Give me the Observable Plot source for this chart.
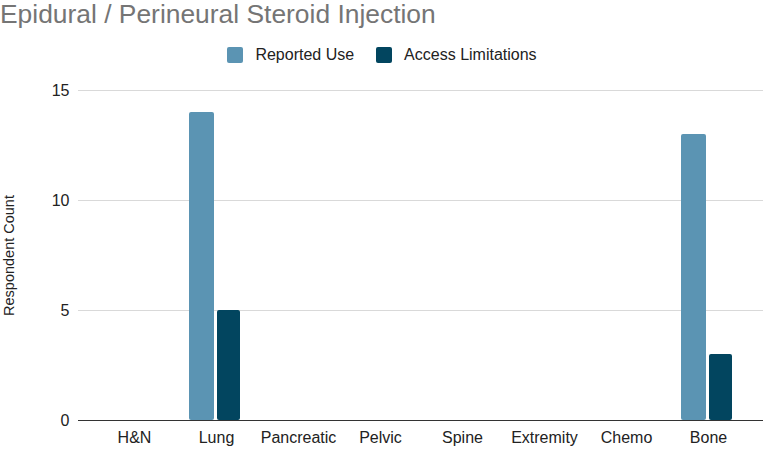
<!DOCTYPE html>
<html><head><meta charset="utf-8">
<script src="https://cdn.jsdelivr.net/npm/d3@7"></script>
<script src="https://cdn.jsdelivr.net/npm/@observablehq/plot@0.6"></script>
<style>
body{margin:0;background:#fff;font-family:"Liberation Sans",Arial,sans-serif;width:764px;height:449px;overflow:hidden}
#title{height:34px;font-size:26.4px;color:#757575;line-height:28px;white-space:nowrap}
#legend{height:34px;padding-top:4px;display:flex;justify-content:center;align-items:center;font-size:16px;color:#222}
.item{display:flex;align-items:center;margin:0 11px}
.sw{width:16px;height:16px;border-radius:2px;margin-right:12px}
</style></head><body>
<div id="title">Epidural / Perineural Steroid Injection</div>
<div id="legend"></div>
<div id="chart"></div>
<script>
const categories = ["H&N","Lung","Pancreatic","Pelvic","Spine","Extremity","Chemo","Bone"];
const series = ["Reported Use","Access Limitations"];
const reportedUse = [0,14,0,0,0,0,0,13];
const accessLimitations = [0,5,0,0,0,0,0,3];
const yTicks = [0,5,10,15];
const colors = ["#5B94B3","#02455F"];

const legend = document.getElementById("legend");
series.forEach((s,i)=>{
  const it=document.createElement("div");it.className="item";
  const sw=document.createElement("div");sw.className="sw";sw.style.background=colors[i];
  const t=document.createElement("span");t.textContent=s;
  it.append(sw,t);legend.append(it);
});

const ru = categories.map((c,i)=>({cat:c,value:reportedUse[i]})).filter(d=>d.value>0);
const al = categories.map((c,i)=>({cat:c,value:accessLimitations[i]})).filter(d=>d.value>0);

const chart = Plot.plot({
  width:764, height:377,
  marginLeft:78, marginRight:1, marginTop:18, marginBottom:29,
  style:{fontFamily:"'Liberation Sans', Arial, sans-serif", fontSize:"16px", color:"#222", background:"#fff"},
  x:{domain:categories, insetLeft:14, insetRight:14, padding:0, tickSize:0, tickPadding:11, label:null},
  y:{domain:[0,15], ticks:yTicks, tickSize:0, tickPadding:9, label:null},
  marks:[
    Plot.ruleY(yTicks.filter(v=>v>0),{stroke:"#d9d9d9",strokeWidth:1}),
    Plot.barY(ru,{x:"cat",y:"value",fill:colors[0],insetLeft:14,insetRight:43,rx:2}),
    Plot.barY(al,{x:"cat",y:"value",fill:colors[1],insetLeft:42,insetRight:17,rx:2}),
    Plot.ruleY([0],{stroke:"#333",strokeWidth:1}),
    Plot.text(["Respondent Count"],{frameAnchor:"left",textAnchor:"middle",rotate:-90,dx:-69,fontSize:14.5,fill:"#222"})
  ]
});
document.getElementById("chart").append(chart);
</script>
</body></html>
